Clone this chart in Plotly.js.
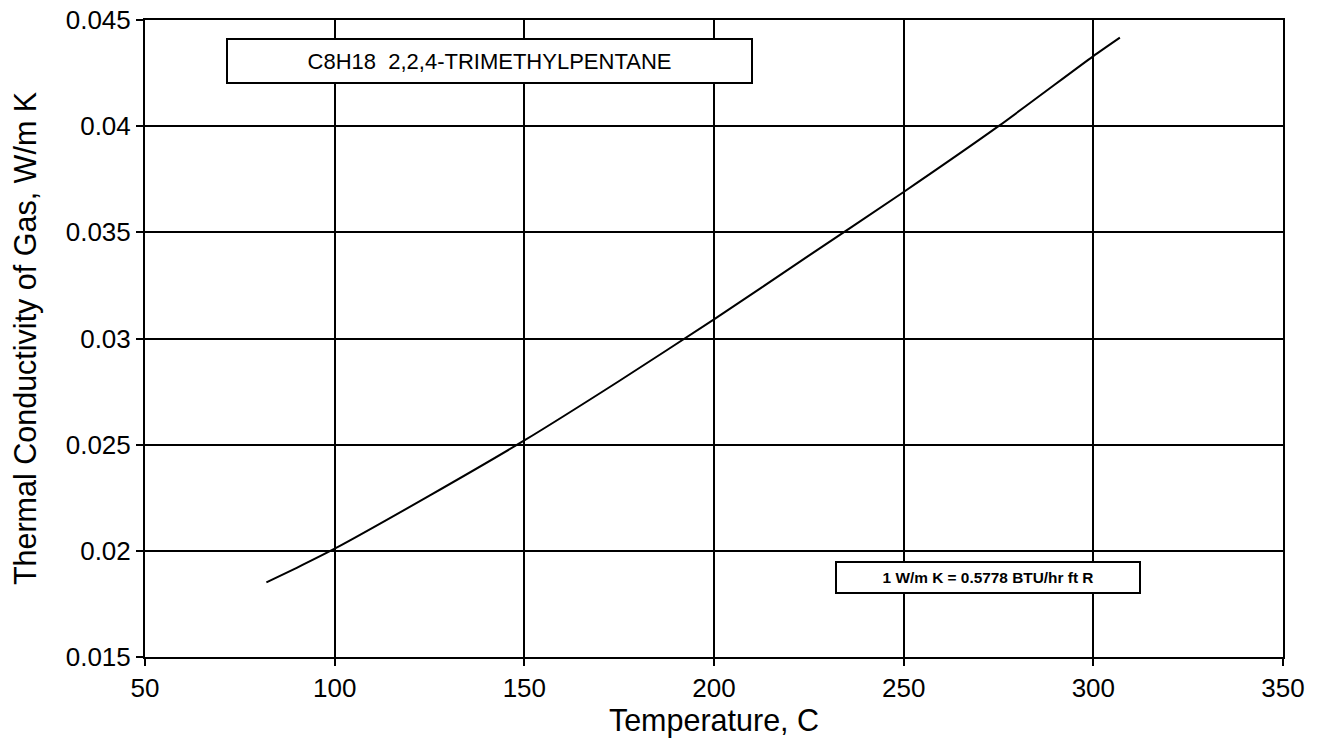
<!DOCTYPE html>
<html>
<head>
<meta charset="utf-8">
<script src="https://cdn.plot.ly/plotly-3.0.1.min.js"></script>
<style>html,body{margin:0;padding:0;background:#fff;}#chart{width:1329px;height:739px;}</style>
</head>
<body>
<div id="chart"></div>
<script>
const temperatureC = [82, 90, 100, 125, 150, 175, 200, 225, 250, 275, 300, 307];
const conductivity = [0.01851, 0.0192, 0.0201, 0.0226, 0.0252, 0.0280, 0.0309, 0.0339, 0.0369, 0.0400, 0.0433, 0.04417];
const xTicks = [50, 100, 150, 200, 250, 300, 350];
const yTicks = [0.015, 0.02, 0.025, 0.03, 0.035, 0.04, 0.045];
const yTickLabels = ["0.015", "0.02", "0.025", "0.03", "0.035", "0.04", "0.045"];
const titleText = "C8H18  2,2,4-TRIMETHYLPENTANE";
const noteText = "1 W/m K = 0.5778 BTU/hr ft R";

const font = "Liberation Sans, Arial, Helvetica, sans-serif";

const trace = {
  x: temperatureC,
  y: conductivity,
  mode: "lines",
  line: {color: "#000", width: 2, shape: "spline", smoothing: 0.6},
  hoverinfo: "skip",
  showlegend: false
};

const axisCommon = {
  showline: true, linecolor: "#000", linewidth: 2, mirror: true,
  showgrid: true, gridcolor: "#000", gridwidth: 2,
  ticks: "outside", ticklen: 7, tickwidth: 2, tickcolor: "#000",
  zeroline: false
};

const layout = {
  width: 1329, height: 739,
  margin: {l: 145, r: 46, t: 20, b: 82},
  paper_bgcolor: "#fff", plot_bgcolor: "#fff",
  xaxis: Object.assign({}, axisCommon, {
    range: [50, 350], tickmode: "array", tickvals: xTicks,
    tickfont: {family: font, size: 26, color: "#000"},
    title: {text: "Temperature, C", font: {family: font, size: 30.5, color: "#000"}, standoff: 2}
  }),
  yaxis: Object.assign({}, axisCommon, {
    range: [0.015, 0.045], tickmode: "array", tickvals: yTicks, ticktext: yTickLabels,
    tickfont: {family: font, size: 26, color: "#000"},
    title: {text: "Thermal Conductivity of Gas, W/m K", font: {family: font, size: 30.5, color: "#000"}, standoff: 20}
  }),
  annotations: [
    {
      x: 140.8, y: 0.04307, xref: "x", yref: "y",
      text: titleText, showarrow: false,
      font: {family: font, size: 22, color: "#000"},
      bgcolor: "#fff", bordercolor: "#000", borderwidth: 2, borderpad: 0,
      width: 523, height: 42, align: "center", valign: "middle"
    },
    {
      x: 272.2, y: 0.018744, xref: "x", yref: "y",
      text: "<b>" + noteText + "</b>", showarrow: false,
      font: {family: font, size: 15.4, color: "#000"},
      bgcolor: "#fff", bordercolor: "#000", borderwidth: 2, borderpad: 0,
      width: 302, height: 29, align: "center", valign: "middle"
    }
  ]
};

Plotly.newPlot("chart", [trace], layout, {displayModeBar: false, staticPlot: true});
</script>
</body>
</html>
